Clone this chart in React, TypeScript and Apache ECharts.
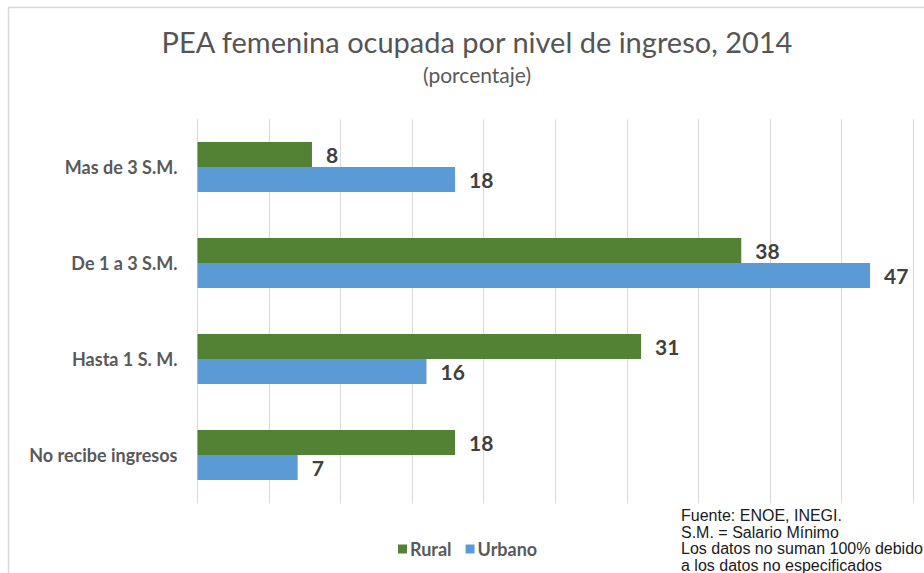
import React, { useEffect, useRef } from "react";
import * as echarts from "echarts";

const categories = ["Mas de 3 S.M.", "De 1 a 3 S.M.", "Hasta 1 S. M.", "No recibe ingresos"];
const rural = [8, 38, 31, 18];
const urbano = [18, 47, 16, 7];
const seriesNames = ["Rural", "Urbano"];
const titleText = "PEA femenina ocupada por nivel de ingreso, 2014";
const subtitleText = "(porcentaje)";
const noteLines = [
  "Fuente: ENOE, INEGI.",
  "S.M. = Salario Mínimo",
  "Los datos no suman 100% debido",
  "a los datos no especificados",
];

export default function App() {
  const ref = useRef<HTMLDivElement>(null);
  useEffect(() => {
    if (!ref.current) return;
    const chart = echarts.init(ref.current, null, { renderer: "svg" });
    const labelStyle = {
      show: true,
      position: "right" as const,
      distance: 14,
      fontFamily: "Lato",
      fontWeight: "bold" as const,
      fontSize: 21,
      color: "#404040",
    };
    chart.setOption({
      animation: false,
      backgroundColor: "#ffffff",
      title: {
        text: titleText,
        subtext: subtitleText,
        left: 472,
        top: 22,
        textAlign: "center",
        itemGap: 8,
        textStyle: { fontFamily: "Lato", fontSize: 29, fontWeight: "normal", color: "#555555" },
        subtextStyle: { fontFamily: "Lato", fontSize: 21, color: "#595959" },
      },
      legend: {
        data: seriesNames,
        left: 393,
        top: 535,
        itemWidth: 9,
        itemHeight: 9,
        itemGap: 14,
        icon: "rect",
        textStyle: { fontFamily: "Lato", fontWeight: "bold", fontSize: 18, color: "#595959", padding: [0, 0, 0, -2] },
      },
      grid: { left: 197.5, right: 11, top: 119, bottom: 70, containLabel: false },
      xAxis: {
        type: "value",
        min: 0,
        max: 50,
        interval: 5,
        axisLabel: { show: false },
        axisLine: { show: false },
        axisTick: { show: false },
        splitLine: { show: true, lineStyle: { color: "#d9d9d9", width: 1 } },
      },
      yAxis: {
        type: "category",
        data: categories,
        inverse: true,
        axisLine: { show: false },
        axisTick: { show: false },
        axisLabel: {
          margin: 20,
          fontFamily: "Lato",
          fontWeight: "bold",
          fontSize: 18,
          color: "#595959",
        },
      },
      series: [
        {
          name: seriesNames[0],
          type: "bar",
          data: rural,
          barWidth: 25,
          barGap: "0%",
          itemStyle: { color: "#548235" },
          label: labelStyle,
        },
        {
          name: seriesNames[1],
          type: "bar",
          data: urbano,
          barWidth: 25,
          barGap: "0%",
          itemStyle: { color: "#5b9bd5" },
          label: labelStyle,
        },
      ],
      graphic: [
        {
          type: "rect",
          silent: true,
          shape: { x: 8.5, y: 7.5, width: 940, height: 600 },
          style: { fill: "none", stroke: "#d9d9d9", lineWidth: 1.5 },
        },
        {
          type: "text",
          left: 681,
          top: 507,
          style: {
            text: noteLines.join("\n"),
            fontFamily: "Liberation Sans",
            fontSize: 16,
            lineHeight: 16.7,
            fill: "#1a1a1a",
          },
        },
      ],
    });
    return () => chart.dispose();
  }, []);
  return <div ref={ref} style={{ position: "fixed", left: 0, top: 0, width: 924, height: 573 }} />;
}
